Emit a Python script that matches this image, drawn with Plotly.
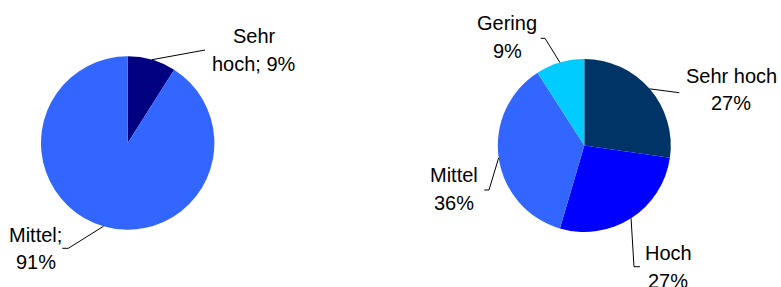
import math
import plotly.graph_objects as go

W, H = 781, 287

# Data
left_labels = ["Sehr hoch", "Mittel"]
left_values = [9, 91]
left_text = [["Sehr", "hoch; 9%"], ["Mittel;", "91%"]]
left_colors = ["#000080", "#3366FF"]

right_labels = ["Sehr hoch", "Hoch", "Mittel", "Gering"]
right_values = [27, 27, 36, 9]
right_text = [["Sehr hoch", "27%"], ["Hoch", "27%"], ["Mittel", "36%"], ["Gering", "9%"]]
right_colors = ["#003366", "#0000FF", "#3366FF", "#00CCFF"]

# Layout (pixel geometry of each pie: centre x, centre y, radius)
left_geom = (127.7, 143.0, 86.7)
right_geom = (584.3, 145.5, 86.5)

# label placement: (text centre x, first baseline y), leader-line bend points
left_place = [
    ((254.3, 42.3), [(205, 50)]),
    ((35.5, 240.7), [(68.3, 248.3), (62.3, 248.3)]),
]
right_place = [
    ((731.4, 81.7), [(679.3, 92.7)]),
    ((668.3, 259.3), [(634, 266.7), (640, 266.7)]),
    ((454.0, 181.0), [(489, 190), (484.3, 190)]),
    ((507.2, 29.3), [(545, 38.3), (540.7, 38.3)]),
]

FS = 20
LINE_GAP = 27.7


def px(x):
    return x / W


def py(y):
    return 1 - y / H


fig = go.Figure()
annotations = []
shapes = []


def add_pie(labels, values, colors, geom, texts, places):
    cx, cy, r = geom
    fig.add_trace(go.Pie(
        labels=labels, values=values, sort=False, direction="clockwise",
        rotation=0, textinfo="none", hoverinfo="label+percent",
        marker=dict(colors=colors, line=dict(width=0)),
        domain=dict(x=[px(cx - r), px(cx + r)], y=[py(cy + r), py(cy - r)]),
        showlegend=False,
    ))
    total = sum(values)
    acc = 0
    for v, t, (pos, bends) in zip(values, texts, places):
        mid = (acc + v / 2) / total * 2 * math.pi
        acc += v
        sx = cx + r * math.sin(mid)
        sy = cy - r * math.cos(mid)
        pts = [(sx, sy)] + bends
        path = "M " + " L ".join(f"{px(x):.5f},{py(y):.5f}" for x, y in pts)
        shapes.append(dict(type="path", xref="paper", yref="paper", path=path,
                           line=dict(color="#000000", width=1)))
        tx, b1 = pos
        for i, line in enumerate(t):
            b = b1 + i * LINE_GAP
            annotations.append(dict(
                x=px(tx), y=py(b - 0.3 * FS), xref="paper", yref="paper",
                text=line, showarrow=False, xanchor="center", yanchor="middle",
                font=dict(family="Liberation Sans, Arial, sans-serif", size=FS, color="#000000"),
            ))


add_pie(left_labels, left_values, left_colors, left_geom, left_text, left_place)
add_pie(right_labels, right_values, right_colors, right_geom, right_text, right_place)

fig.update_layout(
    width=W, height=H, margin=dict(l=0, r=0, t=0, b=0),
    paper_bgcolor="white", plot_bgcolor="white",
    annotations=annotations, shapes=shapes,
)

fig.write_html(
    "out.html",
    config={"displayModeBar": False},
    post_script="document.body.style.margin='0';document.body.style.overflow='hidden';",
)
